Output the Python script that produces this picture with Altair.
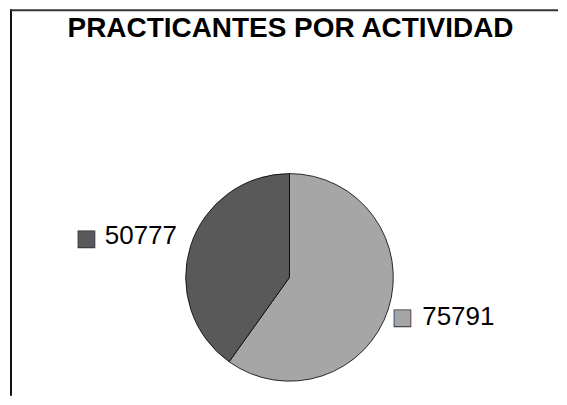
import altair as alt
import pandas as pd

title_text = "PRACTICANTES POR ACTIVIDAD"
labels = ["75791", "50777"]
values = [75791, 50777]
colors = ["#a6a6a6", "#595959"]

df = pd.DataFrame({"slice": labels, "value": values, "idx": list(range(len(labels)))})
one = pd.DataFrame({"t": [title_text]})

CX, CY = 282, 268.5
color_enc = alt.Color("slice:N", scale=alt.Scale(domain=labels, range=colors), legend=None)

base = alt.Chart(df).encode(
    theta=alt.Theta("value:Q", stack=True),
    order=alt.Order("idx:Q"),
    x=alt.value(CX),
    y=alt.value(CY),
)

arc = base.mark_arc(outerRadius=104, stroke="#000000", strokeWidth=0.8).encode(color=color_enc)


def label_layers(name, sq_dx, sq_dy, tx_dx, tx_dy):
    show = alt.condition(alt.datum.slice == name, alt.value(1), alt.value(0))
    sq = base.mark_text(
        radius=130, dx=sq_dx, dy=sq_dy, font="DejaVu Sans", fontSize=22,
        align="center", baseline="middle", stroke="#333333", strokeWidth=0.8,
    ).encode(text=alt.value("■"), color=color_enc, opacity=show)
    tx = base.mark_text(
        radius=130, dx=tx_dx, dy=tx_dy, font="Liberation Sans", fontSize=26,
        align="left", baseline="alphabetic", color="#000000",
    ).encode(text="slice:N", opacity=show)
    return [sq, tx]


layers_a = label_layers("75791", -10.8, 0, 9.2, 7.7)
layers_b = label_layers("50777", -79.7, 0, -61.2, 6.3)

title = alt.Chart(one).mark_text(
    font="Liberation Sans", fontSize=28, fontWeight="bold", align="center",
    baseline="alphabetic", color="#000000",
).encode(text="t:N", x=alt.value(283), y=alt.value(28))

left_rule = alt.Chart(one).mark_rule(color="#111111", strokeWidth=2).encode(
    x=alt.value(3), y=alt.value(0), y2=alt.value(387)
)
top_rule = alt.Chart(one).mark_rule(color="#333333", strokeWidth=2).encode(
    x=alt.value(2), x2=alt.value(551), y=alt.value(1)
)

chart = alt.layer(
    arc, *layers_a, *layers_b, title, left_rule, top_rule
).properties(
    width=551, height=387, padding=0, background="white"
).configure_view(stroke=None)

chart.save("out.html", embed_options={"renderer": "svg", "actions": False})
